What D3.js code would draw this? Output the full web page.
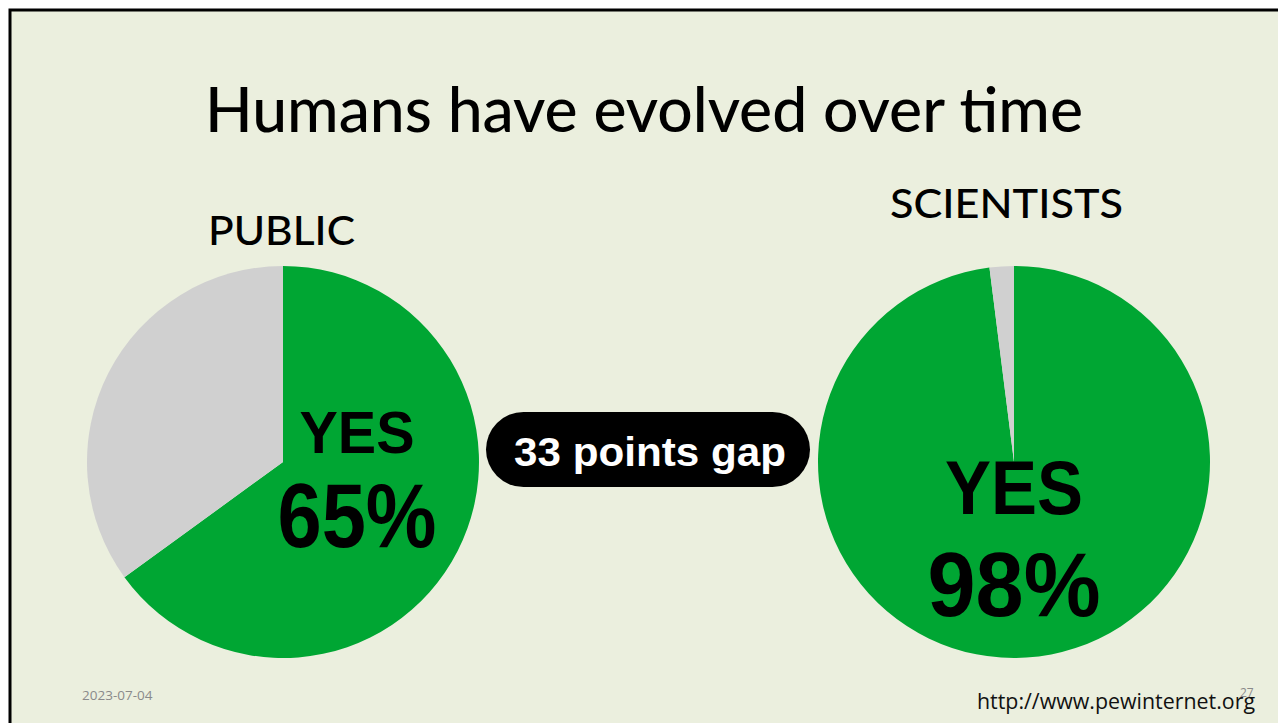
<!DOCTYPE html>
<html><head><meta charset="utf-8">
<script src="https://cdn.jsdelivr.net/npm/d3@7"></script>
<style>body{margin:0;background:#fff;overflow:hidden}</style>
</head><body>
<script>
const groups = ["PUBLIC", "SCIENTISTS"];
const yesValues = [65, 98];
const noValues = [35, 2];
const title = "Humans have evolved over time";
const gapLabel = "33 points gap";
const dateLabel = "2023-07-04";
const urlLabel = "http://www.pewinternet.org";
const pageLabel = "27";

const W = 1278, H = 723;
const svg = d3.select("body").append("svg").attr("width", W).attr("height", H);
svg.append("rect").attr("x", 0).attr("y", 0).attr("width", W).attr("height", H).attr("fill", "#fff");
svg.append("rect").attr("x", 10).attr("y", 10).attr("width", W + 20).attr("height", H + 20)
  .attr("fill", "#EBEFDE").attr("stroke", "#000").attr("stroke-width", 3);

svg.append("text").attr("x", 644).attr("y", 132).attr("text-anchor", "middle")
  .attr("font-family", "Lato, 'Noto Sans', sans-serif").attr("font-size", 62).attr("font-weight", 500)
  .attr("textLength", 878).attr("lengthAdjust", "spacingAndGlyphs")
  .attr("fill", "#000").text(title);

const colors = ["#00A633", "#D0D0D0"];
const centers = [283, 1014];
const cy = 462, R = 196;
const pie = d3.pie().sort(null).value(d => d);
const arc = d3.arc().innerRadius(0).outerRadius(R);

groups.forEach((g, i) => {
  const gg = svg.append("g").attr("transform", `translate(${centers[i]},${cy})`);
  gg.selectAll("path").data(pie([yesValues[i], noValues[i]])).enter().append("path")
    .attr("d", arc).attr("fill", (d, j) => colors[j]);
});

// group labels
svg.append("text").attr("x", 208).attr("y", 245).attr("font-family", "Lato, sans-serif")
  .attr("font-size", 40).attr("font-weight", 500).attr("textLength", 147).attr("lengthAdjust", "spacingAndGlyphs").text(groups[0]);
svg.append("text").attr("x", 890).attr("y", 218).attr("font-family", "Lato, sans-serif")
  .attr("font-size", 40).attr("font-weight", 500).attr("textLength", 233).attr("lengthAdjust", "spacingAndGlyphs").text(groups[1]);

// labels inside pies
const lab = [
  {x: 357, yesY: 453, yesSize: 60, yesLen: 115, pctY: 547, pctSize: 90, pctLen: 159},
  {x: 1014, yesY: 514, yesSize: 76, yesLen: 138, pctY: 616, pctSize: 90, pctLen: 173}
];
lab.forEach((l, i) => {
  svg.append("text").attr("x", l.x).attr("y", l.yesY).attr("text-anchor", "middle")
    .attr("font-family", "'Liberation Sans', Arial, sans-serif").attr("font-weight", "bold")
    .attr("font-size", l.yesSize).attr("textLength", l.yesLen).attr("lengthAdjust", "spacingAndGlyphs").text("YES");
  svg.append("text").attr("x", l.x).attr("y", l.pctY).attr("text-anchor", "middle")
    .attr("font-family", "'Liberation Sans', Arial, sans-serif").attr("font-weight", "bold")
    .attr("font-size", l.pctSize).attr("textLength", l.pctLen).attr("lengthAdjust", "spacingAndGlyphs").text(yesValues[i] + "%");
});

// gap pill
svg.append("rect").attr("x", 486).attr("y", 412).attr("width", 324).attr("height", 75).attr("rx", 37.5)
  .attr("fill", "#000");
svg.append("text").attr("x", 650).attr("y", 466).attr("text-anchor", "middle")
  .attr("font-family", "'Liberation Sans', Arial, sans-serif").attr("font-weight", "bold")
  .attr("font-size", 40).attr("fill", "#fff").attr("textLength", 272).attr("lengthAdjust", "spacingAndGlyphs").text(gapLabel);

// footer
svg.append("text").attr("x", 82).attr("y", 700).attr("font-family", "'Open Sans', sans-serif")
  .attr("font-size", 13.5).attr("fill", "#8a8a8a").text(dateLabel);
svg.append("text").attr("x", 1240).attr("y", 697).attr("font-family", "'Open Sans', sans-serif")
  .attr("font-size", 12).attr("fill", "#8a8a8a").text(pageLabel);
svg.append("text").attr("x", 977).attr("y", 709).attr("font-family", "'Open Sans', sans-serif")
  .attr("font-size", 22).attr("fill", "#111").attr("textLength", 278).attr("lengthAdjust", "spacingAndGlyphs").text(urlLabel);
</script>
</body></html>
